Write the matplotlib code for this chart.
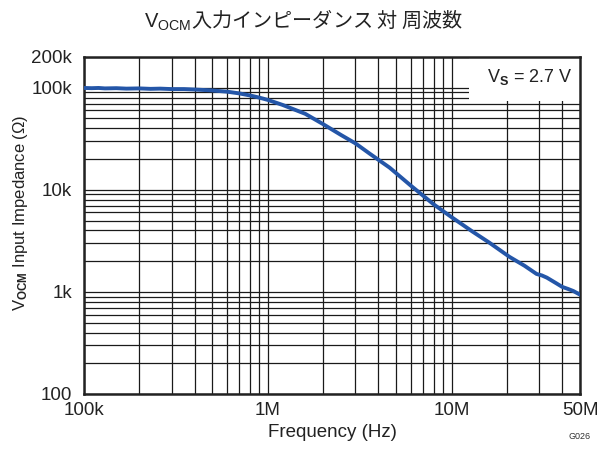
import numpy as np
import matplotlib
matplotlib.use("Agg")
import matplotlib.pyplot as plt
from matplotlib.ticker import LogLocator, NullFormatter, FixedLocator, FixedFormatter
from matplotlib.patches import Rectangle

# ---------- Data ----------
freq_hz = [100e3, 110e3, 120e3, 130e3, 150e3, 170e3, 200e3, 230e3, 260e3,
           300e3, 350e3, 400e3, 450e3, 500e3, 600e3, 700e3, 800e3, 900e3,
           1e6, 1.2e6, 1.4e6, 1.6e6, 2e6, 2.5e6, 3e6, 3.6e6, 4.6e6, 6e6,
           8e6, 10e6, 13e6, 16e6, 20.7e6, 25e6, 29e6, 31e6, 33e6, 37e6,
           40e6, 43e6, 46e6, 50e6]
impedance_ohm = [99.5e3, 99e3, 99.5e3, 98.5e3, 99e3, 98e3, 98.5e3, 97.5e3, 98e3,
                 97e3, 97e3, 96e3, 95e3, 94e3, 91.5e3, 88e3, 84e3, 80e3,
                 76e3, 68e3, 61e3, 55.5e3, 44e3, 34.5e3, 28.5e3, 22.5e3, 16.5e3, 11e3,
                 7.2e3, 5.4e3, 3.9e3, 3.05e3, 2.2e3, 1.8e3, 1.5e3, 1.45e3, 1.38e3, 1.22e3,
                 1.12e3, 1.07e3, 1.02e3, 0.94e3]

xticks = [1e5, 1e6, 1e7, 5e7]
xtick_labels = ["100k", "1M", "10M", "50M"]
yticks = [1e2, 1e3, 1e4, 1e5, 2e5]
ytick_labels = ["100", "1k", "10k", "100k", "200k"]

title_text = r"$\mathrm{V}_{\mathrm{OCM}}$入力インピーダンス 対 周波数"
xlabel_text = "Frequency (Hz)"
ylabel_text = r"$\mathrm{V}_{\mathbf{OCM}}$ Input Impedance (Ω)"
note_text = r"$\mathrm{V}_{\mathbf{S}}$ = 2.7 V"

# ---------- Style ----------
plt.rcParams['font.family'] = ['Liberation Sans', 'Noto Sans CJK JP', 'DejaVu Sans']
plt.rcParams['mathtext.fontset'] = 'custom'
plt.rcParams['mathtext.rm'] = 'Liberation Sans'
plt.rcParams['mathtext.it'] = 'Liberation Sans:italic'
plt.rcParams['mathtext.bf'] = 'Liberation Sans:bold'

fig = plt.figure(figsize=(6.02, 4.5), dpi=100)
ax = fig.add_axes([84 / 602, 56 / 450, 496 / 602, 337 / 450])

ax.set_xscale("log")
ax.set_yscale("log")
ax.set_xlim(1e5, 5e7)
ax.set_ylim(1e2, 2e5)

ax.plot(freq_hz, impedance_ohm, color="#2456a8", lw=2.8, zorder=3,
        solid_capstyle="round", solid_joinstyle="round")

# grid
ax.set_axisbelow(True)
ax.xaxis.set_minor_locator(LogLocator(base=10, subs=np.arange(2, 10)))
ax.yaxis.set_minor_locator(LogLocator(base=10, subs=np.arange(2, 10)))
ax.xaxis.set_minor_formatter(NullFormatter())
ax.yaxis.set_minor_formatter(NullFormatter())
ax.grid(which="both", color="#1a1a1a", lw=0.9)

ax.xaxis.set_major_locator(FixedLocator(xticks))
ax.xaxis.set_major_formatter(FixedFormatter(xtick_labels))
ax.yaxis.set_major_locator(FixedLocator(yticks))
ax.yaxis.set_major_formatter(FixedFormatter(ytick_labels))
ax.tick_params(which="both", length=0, labelsize=13.5, colors="#222222")
ax.tick_params(axis="x", pad=6)
ax.tick_params(axis="y", pad=8.5)

for s in ax.spines.values():
    s.set_linewidth(1.8)
    s.set_color("#222222")

# white box behind the supply note
ax.add_patch(Rectangle((0.776, 0.869), 0.224, 0.131, transform=ax.transAxes,
                       facecolor="white", edgecolor="none", zorder=1))
ax.text(0.984, 0.94, note_text, transform=ax.transAxes, ha="right", va="center",
        fontsize=13, color="#222222", zorder=4)

ax.set_xlabel(xlabel_text, fontsize=13.5, color="#222222")
ax.set_ylabel(ylabel_text, fontsize=12, color="#222222")
ax.xaxis.set_label_coords(0.5, -0.113)
ax.yaxis.set_label_coords(-0.129, 0.537)
ax.xaxis.label.set_va("center")
ax.yaxis.label.set_va("center")

fig.text(0.505, 0.955, title_text, ha="center", va="center", fontsize=14.5,
         family="Noto Sans CJK JP", color="#222222")
fig.text(0.945, 0.02, "G026", fontsize=6.5, color="#333333", ha="left", va="bottom")

fig.savefig("out.png", dpi=100)
